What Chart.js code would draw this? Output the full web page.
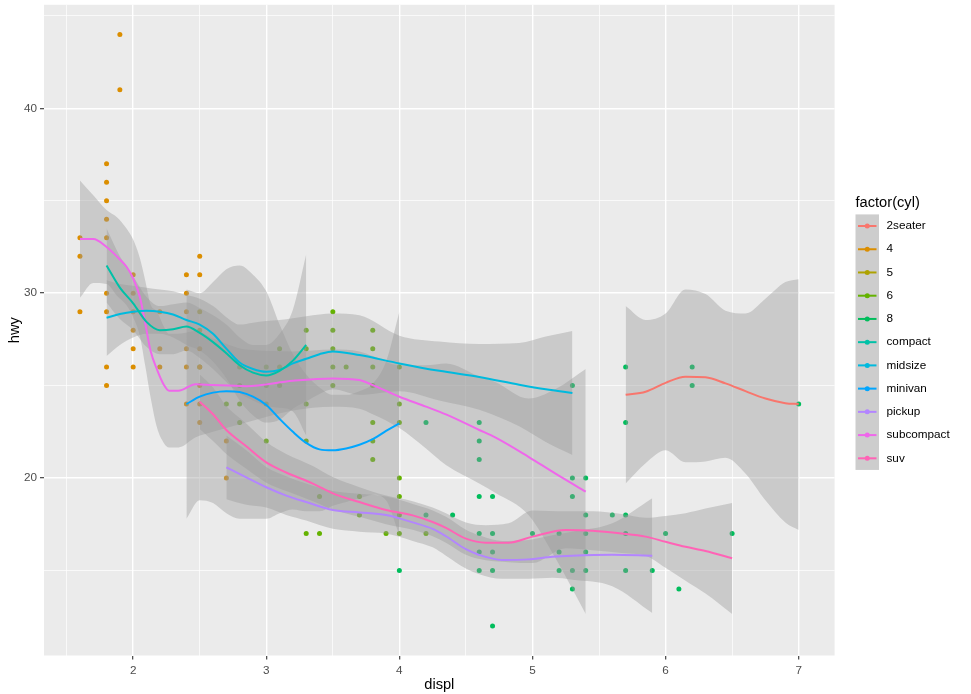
<!DOCTYPE html>
<html>
<head>
<meta charset="utf-8">
<title>hwy vs displ</title>
<script src="https://cdn.jsdelivr.net/npm/chart.js@4.4.0/dist/chart.umd.min.js"></script>
<style>
  body { margin: 0; background: #ffffff; }
</style>
</head>
<body>
<canvas id="myChart" width="971" height="694"></canvas>
<script>
// points, [displ, hwy], by number of cylinders
var cyl4 = [[1.6,33],[1.6,32],[1.6,29],[1.8,29],[1.8,26],[1.8,25],[1.8,34],[1.8,36],[1.8,30],[1.8,33],[1.8,35],[1.8,37],
  [1.9,44],[1.9,41],[2.0,31],[2.0,30],[2.0,28],[2.0,27],[2.0,29],[2.0,26],[2.2,26],[2.2,29],[2.2,27],
  [2.4,27],[2.4,30],[2.4,24],[2.4,26],[2.4,31],[2.4,29],[2.5,31],[2.5,32],[2.5,25],[2.5,24],[2.5,27],[2.5,26],[2.5,23],
  [2.7,20],[2.7,22]];
var cyl5 = [[2.5,29],[2.5,28]];
var cyl6 = [[2.5,26],[2.7,24],[2.8,26],[2.8,25],[2.8,24],[2.8,23],[3.0,24],[3.0,22],[3.0,26],[3.0,25],[3.1,27],[3.1,25],[3.1,26],
  [3.3,22],[3.3,24],[3.3,17],[3.3,28],[3.3,27],[3.4,19],[3.4,17],[3.5,29],[3.5,27],[3.5,26],[3.5,25],[3.5,28],[3.6,26],
  [3.7,19],[3.7,18],[3.8,22],[3.8,21],[3.8,23],[3.8,26],[3.8,25],[3.8,27],[3.8,28],[3.9,17],
  [4.0,23],[4.0,17],[4.0,19],[4.0,26],[4.0,24],[4.0,20],[4.0,18],[4.2,17]];
var cyl8 = [[4.0,15],[4.2,23],[4.2,18],[4.4,18],[4.6,17],[4.6,19],[4.6,16],[4.6,21],[4.6,22],[4.6,23],[4.6,15],
  [4.7,19],[4.7,12],[4.7,17],[4.7,16],[4.7,15],[5.0,17],[5.2,17],[5.2,15],[5.2,16],[5.3,20],[5.3,15],[5.3,19],[5.3,14],[5.3,25],
  [5.4,17],[5.4,18],[5.4,15],[5.4,20],[5.4,16],[5.6,18],[5.7,17],[5.7,15],[5.7,18],[5.7,26],[5.7,23],[5.9,15],
  [6.0,17],[6.1,14],[6.2,26],[6.2,25],[6.5,17],[7.0,24]];

// smooth curves by class: x, fit, upper, lower
var x2seater  = [5.7, 5.85, 6.0, 6.15, 6.3, 6.45, 6.6, 6.75, 6.9, 7.0];
var y2seater  = [24.5, 24.67, 25.15, 25.48, 25.45, 25.12, 24.7, 24.3, 24.05, 24.0];
var hi2seater = [29.3, 28.55, 28.9, 30.2, 29.95, 29.05, 28.9, 29.7, 30.6, 30.76];
var lo2seater = [19.7, 20.8, 21.5, 20.85, 20.9, 21.1, 20.25, 18.8, 17.6, 17.19];

var xCompact  = [1.8, 1.9, 2.0, 2.1, 2.2, 2.3, 2.4, 2.5, 2.6, 2.7, 2.8, 2.9, 3.0, 3.1, 3.2, 3.3];
var yCompact  = [31.5, 30.3, 29.45, 28.45, 28.0, 28.05, 28.2, 27.85, 27.35, 26.75, 26.1, 25.7, 25.55, 25.8, 26.35, 27.2];
var hiCompact = [33.5, 32.0, 30.9, 29.8, 29.3, 29.4, 29.5, 29.2, 28.8, 28.3, 27.6, 27.2, 27.2, 27.8, 29.1, 32.1];
var loCompact = [29.5, 28.6, 28.0, 27.1, 26.7, 26.7, 26.9, 26.5, 25.9, 25.2, 24.6, 24.2, 23.9, 23.8, 23.6, 22.3];

var xMidsize  = [1.8, 1.9, 2.0, 2.1, 2.2, 2.3, 2.4, 2.5, 2.6, 2.7, 2.8, 2.9, 3.0, 3.1, 3.2, 3.3, 3.4, 3.5, 3.7, 4.0, 4.3, 4.6, 4.9, 5.1, 5.3];
var yMidsize  = [28.67, 28.87, 29.0, 29.05, 29.0, 28.85, 28.55, 28.3, 27.8, 27.0, 26.25, 25.9, 25.75, 25.85, 26.2, 26.45, 26.7, 26.85, 26.65, 26.2, 25.8, 25.47, 25.05, 24.8, 24.6];
var hiMidsize = [30.7, 30.5, 30.4, 30.3, 30.2, 30.1, 29.9, 29.7, 29.3, 28.7, 28.3, 28.4, 28.5, 28.55, 28.65, 28.75, 28.85, 28.9, 28.8, 27.7, 27.38, 27.25, 27.3, 27.65, 27.95];
var loMidsize = [26.6, 27.2, 27.6, 27.8, 27.8, 27.6, 27.2, 26.9, 26.3, 25.4, 24.2, 23.4, 23.0, 23.15, 23.75, 24.15, 24.55, 24.8, 24.5, 24.7, 24.2, 23.7, 22.8, 21.95, 21.25];

var xMinivan  = [2.4, 2.5, 2.6, 2.7, 2.8, 2.9, 3.0, 3.1, 3.2, 3.3, 3.4, 3.5, 3.6, 3.7, 3.8, 3.9, 4.0];
var yMinivan  = [24.0, 24.4, 24.62, 24.7, 24.65, 24.4, 23.95, 23.2, 22.5, 21.9, 21.55, 21.5, 21.6, 21.8, 22.1, 22.55, 22.96];
var hiMinivan = [30.2, 30.0, 30.6, 31.3, 31.5, 31.0, 30.1, 28.3, 26.7, 25.6, 24.9, 24.5, 24.5, 24.7, 25.1, 26.3, 29.0];
var loMinivan = [17.8, 18.8, 18.65, 18.1, 17.8, 17.8, 17.8, 18.1, 18.3, 18.2, 18.2, 18.5, 18.7, 18.9, 19.1, 18.8, 16.9];

var xPickup  = [2.7, 2.85, 3.0, 3.15, 3.3, 3.5, 3.7, 3.9, 4.1, 4.25, 4.35, 4.5, 4.6, 4.77, 4.97, 5.15, 5.3, 5.6, 5.9];
var yPickup  = [20.58, 20.03, 19.5, 19.05, 18.7, 18.27, 18.14, 18.0, 17.6, 17.25, 16.85, 16.15, 15.84, 15.57, 15.6, 15.74, 15.8, 15.85, 15.8];
var hiPickup = [22.3, 21.5, 20.6, 20.1, 19.7, 19.3, 19.15, 19.0, 18.6, 18.25, 17.9, 17.2, 16.9, 16.6, 16.65, 16.9, 17.1, 17.55, 18.9];
var loPickup = [18.85, 18.55, 18.4, 18.0, 17.7, 17.25, 17.1, 17.0, 16.6, 16.25, 15.8, 15.1, 14.8, 14.55, 14.55, 14.6, 14.5, 14.15, 12.7];

var xSubcompact  = [1.6, 1.7, 1.8, 1.88, 1.95, 2.0, 2.05, 2.09, 2.13, 2.18, 2.23, 2.27, 2.34, 2.47, 2.6, 2.85, 3.2, 3.5, 3.7, 3.8, 4.0, 4.2, 4.35, 4.6, 4.72, 4.97, 5.17, 5.4];
var ySubcompact  = [32.93, 32.93, 32.5, 31.97, 31.43, 30.8, 29.8, 28.4, 26.9, 25.85, 25.05, 24.72, 24.72, 25.08, 25.03, 24.97, 25.26, 25.39, 25.3, 25.03, 24.4, 23.86, 23.44, 22.6, 22.2, 21.15, 20.25, 19.26];
var hiSubcompact = [36.1, 35.3, 34.5, 34.1, 33.5, 32.9, 31.9, 30.7, 29.4, 29.0, 28.2, 27.8, 27.8, 27.95, 27.55, 26.95, 26.85, 26.95, 26.85, 26.6, 26.1, 26.1, 26.2, 25.5, 25.2, 24.3, 24.8, 25.9];
var loSubcompact = [29.75, 30.55, 30.5, 29.85, 29.35, 28.7, 27.7, 26.1, 24.4, 22.7, 21.9, 21.65, 21.65, 22.2, 22.5, 23.0, 23.65, 23.85, 23.75, 23.45, 22.7, 21.6, 20.7, 19.7, 19.2, 18.0, 15.7, 12.65];

var xSuv  = [2.5, 2.6, 2.7, 2.85, 3.0, 3.15, 3.35, 3.5, 3.7, 3.9, 4.1, 4.25, 4.35, 4.5, 4.65, 4.82, 5.0, 5.25, 5.45, 5.67, 5.85, 6.0, 6.15, 6.3, 6.5];
var ySuv  = [24.13, 23.45, 22.6, 21.72, 20.85, 20.3, 19.7, 19.17, 18.7, 18.27, 17.98, 17.62, 17.3, 16.72, 16.5, 16.5, 16.83, 17.19, 17.15, 17.0, 16.83, 16.55, 16.28, 16.05, 15.66];
var hiSuv = [25.6, 24.9, 23.9, 22.95, 21.95, 21.3, 20.65, 20.05, 19.5, 19.05, 18.75, 18.4, 18.1, 17.6, 17.45, 17.55, 18.25, 18.2, 18.2, 18.05, 17.85, 17.95, 18.1, 18.35, 18.65];
var loSuv = [22.65, 22.0, 21.3, 20.5, 19.75, 19.3, 18.75, 18.3, 17.9, 17.5, 17.2, 16.85, 16.5, 15.85, 15.55, 15.45, 15.4, 16.2, 16.1, 15.95, 15.8, 15.15, 14.45, 13.75, 12.65];

// legend / colour scale
var legendNames  = ['2seater', '4', '5', '6', '8', 'compact', 'midsize', 'minivan', 'pickup', 'subcompact', 'suv'];
var legendColors = ['#F8766D', '#DB8E00', '#AEA200', '#64B200', '#00BD5C', '#00C1A7', '#00BADE', '#00A6FF', '#B385FF', '#EF67EB', '#FF63B6'];

// axis breaks
var xBreaks = [1.5, 2, 2.5, 3, 3.5, 4, 4.5, 5, 5.5, 6, 6.5, 7];
var xLabels = [2, 3, 4, 5, 6, 7];
var yBreaks = [15, 20, 25, 30, 35, 40, 45];
var yLabels = [20, 30, 40];

var FONT = "'Liberation Sans', Arial, sans-serif";
var bandFill = 'rgba(153,153,153,0.4)';

function pts(list) {
  return list.map(function (p) { return {x: p[0], y: p[1]}; });
}
function pairs(xs, ys) {
  return xs.map(function (x, i) { return {x: x, y: ys[i]}; });
}

var datasets = [];

// lines first in the array, drawn last (order 1)
var curves = [
  [x2seater, y2seater, hi2seater, lo2seater, 0],
  [xCompact, yCompact, hiCompact, loCompact, 5],
  [xMidsize, yMidsize, hiMidsize, loMidsize, 6],
  [xMinivan, yMinivan, hiMinivan, loMinivan, 7],
  [xPickup, yPickup, hiPickup, loPickup, 8],
  [xSubcompact, ySubcompact, hiSubcompact, loSubcompact, 9],
  [xSuv, ySuv, hiSuv, loSuv, 10]
];

curves.forEach(function (c) {
  datasets.push({
    label: legendNames[c[4]],
    data: pairs(c[0], c[1]),
    showLine: true,
    borderColor: legendColors[c[4]],
    borderWidth: 2,
    pointRadius: 0,
    fill: false,
    cubicInterpolationMode: 'monotone',
    order: 1
  });
});

curves.forEach(function (c) {
  datasets.push({
    label: legendNames[c[4]] + ' upper',
    data: pairs(c[0], c[2]),
    showLine: true,
    borderColor: 'rgba(0,0,0,0)',
    borderWidth: 0,
    pointRadius: 0,
    fill: '+1',
    backgroundColor: bandFill,
    cubicInterpolationMode: 'monotone',
    order: 2
  });
  datasets.push({
    label: legendNames[c[4]] + ' lower',
    data: pairs(c[0], c[3]),
    showLine: true,
    borderColor: 'rgba(0,0,0,0)',
    borderWidth: 0,
    pointRadius: 0,
    fill: false,
    cubicInterpolationMode: 'monotone',
    order: 2
  });
});

[[cyl4, 1], [cyl5, 2], [cyl6, 3], [cyl8, 4]].forEach(function (g) {
  datasets.push({
    label: legendNames[g[1]],
    data: pts(g[0]),
    showLine: false,
    pointRadius: 2.5,
    pointBorderWidth: 0,
    pointBackgroundColor: legendColors[g[1]],
    pointBorderColor: legendColors[g[1]],
    order: 3
  });
});

var panelBg = {
  id: 'panelBg',
  beforeDraw: function (chart) {
    var a = chart.chartArea, ctx = chart.ctx;
    ctx.save();
    ctx.fillStyle = '#FFFFFF';
    ctx.fillRect(0, 0, chart.width, chart.height);
    ctx.fillStyle = '#EBEBEB';
    ctx.fillRect(a.left, a.top, a.right - a.left, a.bottom - a.top);
    ctx.restore();
  }
};

var ggLegend = {
  id: 'ggLegend',
  afterDraw: function (chart) {
    var ctx = chart.ctx;
    var keyLeft = 855.5, keyTop = 214.4, keyW = 23.5, keyH = 23.23;
    ctx.save();
    ctx.fillStyle = '#000000';
    ctx.textBaseline = 'middle';
    ctx.font = '14.67px ' + FONT;
    ctx.fillText('factor(cyl)', keyLeft, 203);
    ctx.fillStyle = '#CDCDCD';
    ctx.fillRect(keyLeft, keyTop, keyW, keyH * legendNames.length);
    ctx.font = '11.73px ' + FONT;
    for (var i = 0; i < legendNames.length; i++) {
      var cy = keyTop + keyH * (i + 0.5);
      ctx.strokeStyle = legendColors[i];
      ctx.lineWidth = 2;
      ctx.beginPath();
      ctx.moveTo(keyLeft + 2.5, cy);
      ctx.lineTo(keyLeft + keyW - 2.5, cy);
      ctx.stroke();
      ctx.fillStyle = legendColors[i];
      ctx.beginPath();
      ctx.arc(keyLeft + keyW / 2, cy, 2.5, 0, Math.PI * 2);
      ctx.fill();
      ctx.fillStyle = '#000000';
      ctx.fillText(legendNames[i], 886.5, cy);
    }
    ctx.restore();
  }
};

var ctx = document.getElementById('myChart').getContext('2d');
var chart = new Chart(ctx, {
  type: 'line',
  data: { datasets: datasets },
  plugins: [panelBg, ggLegend],
  options: {
    responsive: false,
    animation: false,
    devicePixelRatio: 1,
    events: [],
    layout: { padding: { top: 4.8, right: 136.4, left: 0, bottom: 0 } },
    plugins: {
      legend: { display: false },
      tooltip: { enabled: false },
      filler: { propagate: false }
    },
    scales: {
      x: {
        type: 'linear',
        min: 1.33,
        max: 7.27,
        afterFit: function (s) { s.height = 38.5; s.paddingLeft = 0; s.paddingRight = 0; },
        afterBuildTicks: function (s) { s.ticks = xBreaks.map(function (v) { return {value: v}; }); },
        border: { display: false },
        grid: {
          color: '#FFFFFF',
          lineWidth: function (c) { return c.tick && xLabels.indexOf(c.tick.value) >= 0 ? 1.4 : 0.7; },
          tickLength: 4,
          tickWidth: 1.1,
          tickColor: function (c) { return c.tick && xLabels.indexOf(c.tick.value) >= 0 ? '#333333' : 'rgba(0,0,0,0)'; }
        },
        ticks: {
          autoSkip: false,
          maxRotation: 0,
          padding: 4,
          color: '#4D4D4D',
          font: { family: FONT, size: 11.73 },
          callback: function (v) { return xLabels.indexOf(v) >= 0 ? String(v) : ''; }
        },
        title: {
          display: true,
          text: 'displ',
          color: '#000000',
          font: { family: FONT, size: 14.67 },
          padding: { top: 0, bottom: 0 }
        }
      },
      y: {
        type: 'linear',
        min: 10.4,
        max: 45.6,
        afterFit: function (s) { s.width = 44; s.paddingTop = 0; s.paddingBottom = 0; },
        afterBuildTicks: function (s) { s.ticks = yBreaks.map(function (v) { return {value: v}; }); },
        border: { display: false },
        grid: {
          color: '#FFFFFF',
          lineWidth: function (c) { return c.tick && yLabels.indexOf(c.tick.value) >= 0 ? 1.4 : 0.7; },
          tickLength: 4,
          tickWidth: 1.1,
          tickColor: function (c) { return c.tick && yLabels.indexOf(c.tick.value) >= 0 ? '#333333' : 'rgba(0,0,0,0)'; }
        },
        ticks: {
          autoSkip: false,
          padding: 3,
          color: '#4D4D4D',
          font: { family: FONT, size: 11.73 },
          callback: function (v) { return yLabels.indexOf(v) >= 0 ? String(v) : ''; }
        },
        title: {
          display: true,
          text: 'hwy',
          color: '#000000',
          font: { family: FONT, size: 14.67 },
          padding: { top: 6.2, bottom: 0 }
        }
      }
    }
  }
});
</script>
</body>
</html>
